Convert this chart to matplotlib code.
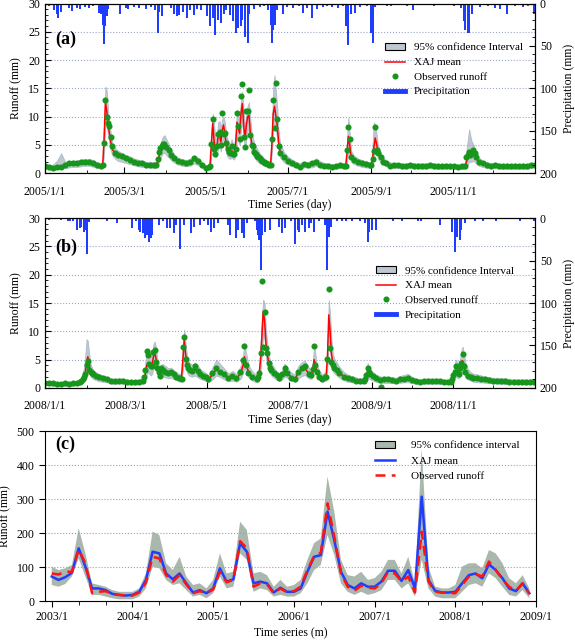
import matplotlib
matplotlib.use("Agg")
import matplotlib.pyplot as plt
import matplotlib.dates as mdates
import pandas as pd
from matplotlib.ticker import MultipleLocator
from matplotlib.patches import Patch
from matplotlib.lines import Line2D

# ---------------- panel (a): daily, 2005 ----------------
days_a = [*range(0, 43, 3),
          *range(43, 51),
          52, 54, *range(57, 82, 3),
          *range(83, 91), 92, 94, 96,
          *range(99, 121, 3),
          *range(122, 176),
          *range(178, 224, 3),
          224, 225, 226, 227, 228, 230, 233, 236, 239, 242,
          243, 244, 245, 246, 247, 248, 250, 252, 254, 257, 260,
          *range(263, 312, 3),
          *range(313, 322), 323, 326,
          *range(329, 366, 3)]
obs_a = [1.3, 1.0, 0.9, 1.0, 1.1, 1.5, 1.7, 1.8, 1.7, 1.9, 2.0, 1.9, 1.7, 1.4, 1.3,
         1.5, 5.4, 13.0, 10.0, 8.8, 8.3, 6.3, 4.8,
         3.6, 3.2, 3.0, 2.6, 2.4, 2.0, 1.8, 1.7, 1.5, 1.5, 1.4,
         1.5, 2.5, 3.8, 4.4, 4.8, 5.1, 5.2, 4.6, 4.0, 3.2, 2.6,
         2.1, 1.9, 1.8, 2.0, 2.6, 2.1, 1.4, 0.9,
         1.1, 1.2, 5.2, 9.6, 4.2, 3.4, 4.8, 7.0, 7.3, 5.0,
         10.6, 7.0, 7.1, 5.4, 4.2, 3.8, 3.5, 4.8, 3.4, 3.4,
         4.3, 10.6, 8.4, 6.1, 13.6, 15.8, 6.4, 4.7, 11.0, 10.9,
         14.7, 6.7, 5.0, 4.8, 3.8, 3.4, 3.0, 2.9, 2.6, 2.3,
         2.1, 1.9, 1.8, 1.7, 1.6, 1.5, 1.4, 6.1, 13.0, 8.0,
         16.0, 9.5, 4.8, 3.6,
         2.9, 2.2, 1.7, 1.4, 1.1, 1.6, 1.4, 1.7, 2.0, 1.5, 1.3, 1.3, 1.1, 1.2, 1.4, 1.3,
         1.3, 4.0, 8.2, 6.0, 2.9, 2.3, 2.0, 1.7, 1.6, 1.4,
         1.4, 2.5, 3.9, 8.1, 4.1, 3.6, 2.9, 2.0, 1.7, 1.3, 1.4,
         1.4, 1.3, 1.3, 1.4, 1.3, 1.2, 1.3, 1.3, 1.4, 1.3, 1.2, 1.2, 1.3, 1.2, 1.2, 1.1, 1.2,
         1.2, 2.9, 3.2, 3.8, 3.2, 3.6, 4.1, 3.5, 2.9, 2.0, 1.7,
         1.4, 1.3, 1.4, 1.3, 1.2, 1.3, 1.2, 1.3, 1.2, 1.3, 1.2, 1.4, 1.5]
sim_a = [1.2, 0.9, 0.9, 1.0, 1.3, 1.3, 1.4, 1.5, 1.5, 1.7, 1.8, 1.8, 1.6, 1.3, 1.2,
         1.6, 6.0, 12.5, 11.0, 8.5, 7.0, 5.5, 4.3,
         3.5, 3.0, 2.7, 2.4, 2.2, 1.9, 1.7, 1.6, 1.4, 1.4, 1.3,
         1.4, 2.0, 3.0, 3.8, 4.4, 4.7, 4.8, 4.5, 3.8, 3.1, 2.5,
         2.0, 1.8, 1.7, 1.8, 2.3, 2.0, 1.3, 0.9,
         1.0, 1.5, 5.5, 8.8, 5.5, 4.0, 4.5, 6.5, 6.8, 5.5,
         7.5, 8.5, 7.0, 5.0, 4.2, 3.8, 3.6, 4.0, 3.6, 3.5,
         5.0, 9.0, 8.0, 7.0, 10.5, 12.3, 8.5, 6.0, 8.5, 10.0,
         10.2, 7.0, 5.2, 4.6, 3.9, 3.5, 3.1, 2.8, 2.5, 2.3,
         2.1, 1.9, 1.8, 1.6, 1.5, 1.4, 1.4, 5.0, 10.5, 11.8,
         10.0, 8.5, 5.5, 4.0,
         2.7, 2.1, 1.7, 1.4, 1.2, 1.4, 1.4, 1.5, 1.8, 1.5, 1.3, 1.2, 1.1, 1.1, 1.3, 1.2,
         1.3, 3.5, 6.5, 5.0, 3.0, 2.3, 1.9, 1.6, 1.5, 1.3,
         1.3, 2.5, 4.5, 6.2, 5.2, 3.8, 2.8, 2.1, 1.7, 1.4, 1.3,
         1.3, 1.2, 1.2, 1.3, 1.2, 1.2, 1.2, 1.2, 1.3, 1.2, 1.1, 1.1, 1.2, 1.1, 1.1, 1.0, 1.1,
         1.1, 2.0, 2.8, 3.5, 3.3, 3.3, 3.6, 3.2, 2.7, 2.0, 1.6,
         1.3, 1.2, 1.3, 1.2, 1.1, 1.2, 1.1, 1.2, 1.1, 1.2, 1.1, 1.3, 1.4]
lo_a = [0.8, 0.6, 0.6, 0.7, 0.8, 0.9, 1.0, 1.1, 1.1, 1.2, 1.3, 1.3, 1.1, 0.9, 0.8,
        1.1, 3.5, 9.0, 8.5, 6.5, 5.2, 4.0, 3.2,
        2.6, 2.2, 2.0, 1.8, 1.6, 1.4, 1.2, 1.1, 1.0, 1.0, 0.9,
        1.0, 1.4, 2.1, 2.7, 3.2, 3.5, 3.6, 3.3, 2.8, 2.3, 1.9,
        1.5, 1.3, 1.2, 1.3, 1.7, 1.4, 0.9, 0.6,
        0.7, 1.0, 3.5, 6.0, 4.0, 2.8, 3.0, 4.5, 4.8, 3.8,
        5.5, 6.0, 5.0, 3.5, 2.9, 2.6, 2.5, 2.8, 2.5, 2.4,
        3.5, 6.5, 5.8, 5.0, 7.5, 9.5, 6.0, 4.2, 6.0, 7.5,
        7.5, 5.0, 3.6, 3.2, 2.7, 2.4, 2.1, 1.9, 1.7, 1.6,
        1.4, 1.3, 1.2, 1.1, 1.0, 1.0, 1.0, 3.5, 8.0, 9.0,
        7.5, 6.0, 3.8, 2.8,
        1.9, 1.5, 1.2, 1.0, 0.8, 1.0, 1.0, 1.0, 1.3, 1.0, 0.9, 0.8, 0.8, 0.8, 0.9, 0.8,
        0.9, 2.0, 4.0, 3.0, 2.0, 1.6, 1.3, 1.1, 1.0, 0.9,
        0.9, 1.5, 2.5, 4.0, 3.5, 2.6, 2.0, 1.5, 1.2, 1.0, 0.9,
        0.9, 0.8, 0.8, 0.9, 0.8, 0.8, 0.8, 0.8, 0.9, 0.8, 0.7, 0.7, 0.8, 0.7, 0.7, 0.7, 0.7,
        0.7, 1.0, 1.5, 2.0, 2.0, 2.0, 2.2, 2.0, 1.7, 1.3, 1.1,
        0.9, 0.8, 0.9, 0.8, 0.7, 0.8, 0.7, 0.8, 0.7, 0.8, 0.7, 0.9, 1.0]
hi_a = [1.7, 1.4, 1.5, 2.2, 3.5, 2.0, 2.1, 2.2, 2.2, 2.4, 2.5, 2.5, 2.3, 1.9, 1.8,
        2.3, 9.0, 15.3, 14.5, 11.0, 9.0, 7.0, 5.5,
        4.5, 4.0, 3.6, 3.2, 3.0, 2.6, 2.4, 2.2, 2.0, 2.0, 1.9,
        2.0, 2.9, 4.2, 5.2, 6.0, 6.5, 6.7, 6.2, 5.2, 4.2, 3.4,
        2.7, 2.5, 2.3, 2.5, 3.1, 2.7, 1.9, 1.3,
        1.5, 2.5, 8.0, 10.5, 8.5, 6.0, 6.5, 9.0, 9.2, 8.0,
        9.5, 10.0, 9.0, 7.0, 6.0, 5.5, 5.0, 6.0, 5.2, 5.0,
        7.0, 11.0, 10.5, 9.5, 13.0, 14.4, 11.0, 8.0, 10.5, 12.0,
        12.5, 9.5, 7.0, 6.2, 5.3, 4.8, 4.3, 3.9, 3.5, 3.2,
        2.9, 2.7, 2.5, 2.3, 2.1, 2.0, 2.0, 7.5, 15.0, 17.3,
        14.5, 11.5, 7.5, 5.5,
        3.7, 2.9, 2.4, 2.0, 1.7, 2.0, 2.0, 2.1, 2.6, 2.1, 1.8, 1.7, 1.6, 1.6, 1.8, 1.7,
        1.8, 6.0, 9.8, 7.0, 4.0, 3.1, 2.6, 2.3, 2.1, 1.9,
        1.8, 5.0, 9.0, 8.5, 7.0, 5.0, 3.6, 2.8, 2.3, 1.9, 1.8,
        1.8, 1.7, 1.7, 1.8, 1.7, 1.7, 1.7, 1.7, 1.8, 1.7, 1.6, 1.6, 1.7, 1.6, 1.6, 1.5, 1.6,
        1.8, 4.0, 6.0, 7.7, 6.5, 5.5, 5.2, 4.5, 3.7, 2.8, 2.2,
        1.9, 1.7, 1.8, 1.7, 1.6, 1.7, 1.6, 1.7, 1.6, 1.7, 1.6, 1.8, 1.9]
# (day of year, precipitation mm)
rain_a = [(3, 3), (7, 8), (9, 12), (10, 17), (12, 10), (18, 5), (20, 9), (24, 5), (26, 6),
          (30, 4), (33, 5), (36, 3), (40, 11), (42, 12), (43, 25), (44, 48), (45, 27), (46, 15),
          (47, 6), (56, 12), (60, 5), (62, 6), (66, 4), (70, 5), (75, 6), (79, 4), (82, 8),
          (84, 35), (85, 10), (87, 15), (94, 5), (96, 12), (98, 15), (100, 13), (103, 10),
          (106, 17), (108, 8), (111, 13), (113, 6), (116, 8), (121, 15), (123, 27), (125, 17),
          (127, 37), (129, 19), (131, 23), (133, 12), (135, 8), (138, 13), (140, 21), (142, 35),
          (144, 29), (146, 27), (147, 19), (149, 40), (151, 46), (152, 12), (156, 6), (160, 4),
          (163, 3), (166, 8), (168, 25), (169, 47), (170, 31), (171, 25), (173, 8), (177, 12),
          (180, 4), (185, 5), (189, 3), (192, 11), (195, 5), (199, 17), (203, 6), (207, 4),
          (210, 3), (214, 4), (218, 5), (222, 3), (224, 27), (226, 49), (228, 12), (231, 11),
          (235, 4), (240, 3), (243, 35), (244, 47), (246, 4), (255, 3), (258, 3), (263, 2),
          (270, 3), (274, 8), (280, 2), (290, 3), (300, 2), (305, 3), (310, 5), (312, 21),
          (313, 31), (315, 35), (316, 35), (318, 12), (324, 4), (330, 3), (335, 5), (339, 6),
          (344, 12), (350, 3), (356, 4), (360, 3), (364, 12)]
ticks_a = ["2005/1/1", "2005/3/1", "2005/5/1", "2005/7/1", "2005/9/1", "2005/11/1"]

# ---------------- panel (b): daily, 2008 ----------------
days_b = [*range(0, 25, 3),
          *range(26, 37), 38, 40,
          *range(43, 71, 3),
          *range(73, 89), 90, 92, 94, 96, 98,
          *range(100, 109), 110, 112, 114, 116, 118, 120,
          122, 125, 128, 131, 134, 137, 140, 143, 146, 148, 149, 150, 152, 155, 158,
          *range(159, 170), 171, 173, 175,
          177, 179, 181, 184, 187, 189, 192, 194, 197, 199, 200, 201, 202, 203, 205, 207, 209,
          *range(210, 217), 218, 220, 223, 226, 229, 232, 235, 238,
          239, 240, 241, 242, 243, 245, 247, 250, 251, 253, 256,
          *range(259, 302, 3),
          *range(303, 315), 316, 318,
          *range(320, 366, 3)]
obs_b = [0.9, 0.8, 0.8, 0.7, 0.7, 0.8, 0.7, 0.8, 0.9,
         1.0, 1.3, 1.6, 2.0, 2.4, 4.1, 4.8, 3.2, 2.9, 2.7, 2.5, 2.2, 1.9,
         1.7, 1.5, 1.3, 1.2, 1.3, 1.3, 1.1, 1.0, 1.0, 1.1,
         1.3, 2.0, 3.2, 6.5, 5.8, 4.2, 3.8, 3.9, 6.4, 6.7, 4.6, 3.5, 2.9, 2.2, 3.6, 3.2,
         2.9, 2.6, 2.8, 2.4, 2.0,
         1.8, 1.7, 1.6, 7.3, 9.0, 5.2, 4.0, 3.5, 3.2, 3.0, 3.8, 3.0, 2.4, 2.2, 2.0,
         1.6, 2.6, 3.6, 2.9, 2.4, 1.8, 2.2, 1.7, 2.9, 4.9, 7.4, 4.1, 2.6, 2.0, 1.6,
         2.0, 2.6, 6.1, 18.8, 7.3, 13.5, 7.0, 6.1, 4.4, 3.6, 3.2, 2.6, 2.3, 1.7,
         2.4, 3.6, 2.6, 1.8, 1.6, 2.9, 3.5, 3.8, 2.4, 2.3, 3.4, 7.4, 4.0, 2.9, 2.0, 1.6, 2.0,
         2.0, 5.2, 17.5, 7.1, 4.6, 4.1, 3.6, 3.2, 2.6, 2.0, 1.7, 1.5, 1.3, 1.2, 1.3,
         1.5, 2.3, 3.5, 2.9, 2.4, 2.1, 1.8, 1.4, 0.2, 1.5, 1.5,
         1.4, 1.3, 1.5, 1.6, 1.7, 1.4, 1.2, 1.1, 1.2, 1.3, 1.2, 1.3, 1.2, 1.1, 1.1,
         1.1, 1.5, 2.3, 2.9, 3.8, 2.9, 2.5, 3.5, 4.4, 6.0, 3.8, 2.9, 2.2, 2.0,
         1.8, 1.7, 1.6, 1.5, 1.4, 1.3, 1.3, 1.2, 1.2, 1.1, 1.1, 1.1, 1.1, 1.0, 1.1, 1.1]
sim_b = [0.8, 0.7, 0.7, 0.7, 0.6, 0.7, 0.7, 0.7, 0.8,
         0.9, 1.1, 1.4, 1.8, 2.5, 4.5, 5.5, 4.0, 3.0, 2.6, 2.3, 2.0, 1.8,
         1.6, 1.4, 1.2, 1.1, 1.2, 1.2, 1.0, 0.9, 0.9, 1.0,
         1.2, 1.6, 2.5, 4.0, 4.5, 4.0, 3.5, 4.0, 5.5, 6.5, 5.0, 3.5, 2.8, 2.5, 3.0, 3.0,
         2.8, 2.5, 2.6, 2.3, 2.0,
         1.8, 1.7, 2.0, 5.0, 8.5, 6.0, 4.2, 3.6, 3.2, 3.0, 3.3, 2.9, 2.4, 2.1, 1.9,
         1.5, 2.3, 3.3, 2.8, 2.3, 1.8, 2.0, 1.7, 2.5, 4.0, 5.5, 4.5, 2.8, 2.0, 1.6,
         1.8, 2.5, 5.0, 9.0, 13.5, 12.0, 8.0, 6.0, 4.6, 3.8, 3.3, 2.7, 2.2, 1.8,
         2.2, 3.0, 2.6, 1.9, 1.7, 2.6, 3.2, 3.5, 2.6, 2.4, 3.0, 5.0, 4.2, 3.0, 2.1, 1.7, 1.9,
         2.0, 5.5, 12.9, 10.0, 6.0, 4.5, 3.8, 3.3, 2.7, 2.1, 1.7, 1.5, 1.3, 1.2, 1.2,
         1.4, 2.0, 2.8, 2.6, 2.3, 2.0, 1.7, 1.5, 1.4, 1.4, 1.4,
         1.3, 1.2, 1.4, 1.5, 1.6, 1.4, 1.1, 1.0, 1.1, 1.2, 1.1, 1.2, 1.1, 1.0, 1.0,
         1.0, 1.3, 2.0, 2.8, 3.2, 2.8, 2.6, 3.2, 4.2, 4.8, 4.0, 3.0, 2.3, 2.0,
         1.7, 1.6, 1.5, 1.4, 1.3, 1.2, 1.2, 1.1, 1.1, 1.0, 1.0, 1.0, 1.0, 1.0, 1.0, 1.0]
lo_b = [0.5, 0.5, 0.4, 0.4, 0.4, 0.4, 0.4, 0.4, 0.5,
        0.6, 0.7, 0.9, 1.1, 1.5, 2.5, 3.5, 2.7, 2.1, 1.8, 1.6, 1.4, 1.2,
        1.1, 1.0, 0.8, 0.7, 0.8, 0.8, 0.7, 0.6, 0.6, 0.7,
        0.8, 1.0, 1.5, 2.4, 2.8, 2.5, 2.2, 2.5, 3.5, 4.2, 3.3, 2.3, 1.9, 1.7, 2.0, 2.0,
        1.9, 1.7, 1.8, 1.6, 1.4,
        1.2, 1.1, 1.2, 3.2, 5.5, 4.0, 2.8, 2.4, 2.1, 2.0, 2.2, 1.9, 1.6, 1.4, 1.3,
        1.0, 1.5, 2.2, 1.9, 1.5, 1.2, 1.3, 1.1, 1.6, 2.6, 3.6, 3.0, 1.9, 1.3, 1.0,
        1.2, 1.6, 3.0, 6.0, 9.5, 8.5, 5.5, 4.0, 3.1, 2.6, 2.2, 1.8, 1.5, 1.2,
        1.5, 2.0, 1.8, 1.3, 1.1, 1.7, 2.1, 2.3, 1.7, 1.6, 2.0, 3.3, 2.8, 2.0, 1.4, 1.1, 1.3,
        1.3, 3.5, 8.5, 6.5, 4.0, 3.0, 2.6, 2.2, 1.8, 1.4, 1.1, 1.0, 0.9, 0.8, 0.8,
        0.9, 1.2, 1.7, 1.7, 1.5, 1.3, 1.1, 1.0, 0.9, 0.9, 0.9,
        0.9, 0.8, 0.9, 1.0, 1.0, 0.9, 0.7, 0.7, 0.7, 0.8, 0.7, 0.8, 0.7, 0.7, 0.7,
        0.7, 0.8, 1.2, 1.8, 2.0, 1.8, 1.7, 2.0, 2.6, 3.0, 2.5, 1.9, 1.5, 1.3,
        1.1, 1.0, 1.0, 0.9, 0.9, 0.8, 0.8, 0.7, 0.7, 0.7, 0.7, 0.7, 0.7, 0.6, 0.7, 0.7]
hi_b = [1.2, 1.1, 1.0, 1.0, 1.0, 1.0, 1.0, 1.1, 1.3,
        1.4, 1.8, 2.5, 3.5, 5.5, 8.6, 8.3, 6.0, 4.3, 3.6, 3.2, 2.8, 2.5,
        2.2, 2.0, 1.7, 1.6, 1.7, 1.7, 1.5, 1.4, 1.4, 1.5,
        1.8, 2.6, 4.5, 6.8, 7.0, 6.0, 5.5, 6.0, 7.8, 8.2, 7.0, 5.0, 4.0, 3.6, 4.2, 4.2,
        3.9, 3.5, 3.6, 3.2, 2.8,
        2.5, 2.4, 3.0, 7.5, 10.3, 8.0, 5.8, 4.9, 4.4, 4.1, 4.5, 4.0, 3.3, 3.0, 2.7,
        2.2, 3.6, 5.0, 4.2, 3.4, 2.6, 3.0, 2.5, 3.8, 6.0, 8.0, 6.5, 4.0, 2.9, 2.3,
        2.6, 3.6, 7.5, 12.5, 15.6, 15.0, 10.5, 8.0, 6.2, 5.0, 4.4, 3.6, 3.0, 2.5,
        3.0, 4.3, 3.6, 2.7, 2.4, 3.8, 4.6, 4.8, 3.6, 3.3, 4.3, 7.5, 6.0, 4.2, 3.0, 2.4, 2.7,
        2.8, 8.0, 15.5, 13.0, 8.5, 6.2, 5.2, 4.5, 3.7, 2.9, 2.4, 2.1, 1.9, 1.7, 1.7,
        2.0, 3.0, 4.4, 3.8, 3.2, 2.8, 2.4, 2.1, 2.0, 2.0, 2.0,
        1.9, 1.8, 2.1, 2.3, 2.5, 2.0, 1.6, 1.5, 1.6, 1.7, 1.6, 1.7, 1.6, 1.5, 1.5,
        1.5, 2.0, 3.2, 4.3, 5.0, 4.4, 4.2, 5.0, 6.6, 7.3, 6.0, 4.5, 3.3, 2.8,
        2.5, 2.4, 2.2, 2.0, 1.9, 1.8, 1.8, 1.7, 1.7, 1.6, 1.5, 1.5, 1.5, 1.5, 1.5, 1.5]
rain_b = [(3, 2), (12, 2), (17, 3), (19, 3), (21, 3), (24, 14), (26, 12), (27, 10), (29, 16),
          (30, 14), (31, 42), (33, 5), (46, 4), (54, 6), (65, 12), (68, 4), (70, 14), (71, 16),
          (73, 18), (75, 24), (76, 20), (78, 28), (79, 24), (80, 20), (85, 8), (88, 4), (91, 12),
          (93, 12), (96, 18), (98, 8), (101, 36), (104, 8), (109, 18), (111, 10), (116, 8),
          (119, 4), (122, 8), (124, 16), (126, 12), (129, 6), (137, 8), (138, 20), (143, 24),
          (144, 14), (147, 18), (149, 24), (151, 6), (157, 3), (158, 14), (159, 20), (160, 26),
          (161, 61), (162, 20), (164, 16), (168, 14), (175, 10), (177, 18), (179, 12), (184, 4),
          (187, 30), (189, 14), (190, 16), (192, 8), (194, 16), (197, 12), (199, 6), (201, 16),
          (205, 4), (209, 8), (211, 61), (212, 22), (214, 10), (218, 4), (222, 4), (225, 4),
          (229, 4), (235, 3), (239, 6), (241, 28), (242, 16), (244, 14), (247, 14), (260, 3),
          (267, 4), (279, 4), (281, 3), (295, 8), (304, 16), (306, 40), (308, 22), (310, 26),
          (311, 14), (314, 6), (321, 4), (327, 3), (337, 3), (355, 3), (365, 4)]
ticks_b = ["2008/1/1", "2008/3/1", "2008/5/1", "2008/7/1", "2008/9/1", "2008/11/1"]

# ---------------- panel (c): monthly, 2003-2008 ----------------
obs_c = [81, 78, 86, 86, 152, 111, 23, 27, 29, 20, 18, 16,
         16, 25, 54, 130, 125, 76, 57, 76, 49, 23, 29, 23,
         34, 86, 55, 62, 176, 155, 42, 52, 49, 23, 37, 25,
         29, 42, 91, 132, 142, 287, 189, 81, 42, 30, 45, 39,
         37, 52, 86, 81, 57, 72, 25, 204, 57, 27, 25, 23,
         23, 47, 72, 79, 72, 116, 91, 64, 42, 30, 52, 21]
sim_c = [72, 62, 70, 83, 155, 101, 37, 37, 32, 21, 18, 16,
         18, 27, 62, 145, 140, 81, 64, 81, 52, 25, 32, 23,
         37, 96, 57, 64, 170, 145, 52, 57, 52, 25, 39, 27,
         27, 37, 86, 130, 135, 263, 179, 86, 47, 37, 52, 42,
         42, 57, 89, 89, 59, 91, 37, 307, 62, 30, 25, 25,
         27, 52, 76, 81, 67, 108, 91, 67, 37, 29, 52, 23]
lo_c = [47, 42, 50, 72, 125, 72, 18, 18, 13, 8, 5, 5,
        5, 13, 37, 101, 96, 62, 47, 52, 32, 13, 18, 8,
        23, 72, 37, 42, 140, 121, 27, 37, 32, 13, 18, 13,
        13, 23, 52, 91, 106, 194, 135, 52, 27, 18, 27, 18,
        23, 32, 62, 62, 37, 52, 13, 121, 37, 13, 8, 8,
        8, 27, 47, 52, 42, 81, 67, 42, 18, 13, 32, 8]
hi_c = [101, 91, 96, 106, 214, 140, 52, 47, 42, 32, 27, 27,
        27, 37, 81, 204, 194, 111, 91, 130, 72, 47, 52, 37,
        62, 140, 81, 86, 233, 209, 81, 86, 76, 42, 62, 42,
        47, 62, 121, 170, 184, 366, 263, 121, 76, 72, 86, 62,
        67, 86, 121, 121, 81, 130, 52, 449, 101, 42, 37, 37,
        47, 101, 111, 111, 96, 150, 140, 111, 67, 52, 76, 37]
ticks_c = ["2003/1", "2004/1", "2005/1", "2006/1", "2007/1", "2008/1", "2009/1"]

plt.rcParams["font.family"] = "Liberation Serif"
plt.rcParams["font.size"] = 8.5

BLUE = "#1f3dff"
GREEN = "#16961a"
GRID = "#9aa6c8"


def daily_panel(ax, start, days, obs, sim, lo, hi, rain, ticks, tag, tag_y, leg_xy):
    t0 = pd.Timestamp(start)
    x = t0 + pd.to_timedelta(days, unit="D")
    ax.fill_between(x, lo, hi, facecolor="#bfc7d0", edgecolor="#b0bccc", lw=0.6)
    ax.plot(x, sim, color="red", lw=1.1)
    ax.plot(x, obs, "o", color=GREEN, ms=4.4, mec="none")
    ax.set_xlim(t0, t0 + pd.DateOffset(years=1))
    ax.set_ylim(0, 30)
    ax.set_yticks(range(0, 31, 5))
    ax.yaxis.set_minor_locator(MultipleLocator(1))
    ax.set_xticks(pd.to_datetime(ticks, format="%Y/%m/%d"))
    ax.set_xticklabels(ticks)
    ax.xaxis.set_minor_locator(mdates.MonthLocator())
    ax.tick_params(which="both", direction="in", top=False, right=False)
    ax.tick_params(axis="x", pad=9)
    ax.tick_params(which="major", length=4)
    ax.tick_params(which="minor", length=2)
    ax.grid(axis="y", ls=":", color=GRID, lw=0.8)
    ax.set_ylabel("Runoff (mm)")
    ax.set_xlabel("Time Series (day)", labelpad=1)
    ax.text(0.02, tag_y, tag, transform=ax.transAxes, fontsize=13, fontweight="bold",
            va="center")

    ax2 = ax.twinx()
    rd = [r[0] for r in rain]
    rm = [r[1] for r in rain]
    ax2.bar(t0 + pd.to_timedelta(rd, unit="D"), rm, width=1.5, color=BLUE)
    ax2.set_ylim(200, 0)
    ax2.set_yticks(range(0, 201, 50))
    ax2.yaxis.set_minor_locator(MultipleLocator(10))
    ax2.tick_params(which="both", direction="in")
    ax2.tick_params(which="major", length=4)
    ax2.tick_params(which="minor", length=2)
    ax2.set_ylabel("Precipitation (mm)")

    handles = [Patch(facecolor="#bfc7d0", edgecolor="black", lw=0.8),
               Line2D([], [], color="red", lw=1.1),
               Line2D([], [], ls="none", marker="o", color=GREEN, ms=4.4, mec="none"),
               Line2D([], [], color=BLUE, lw=3.5)]
    labels = ["95% confidence Interval", "XAJ mean", "Observed runoff", "Precipitation"]
    ax2.legend(handles, labels, loc="upper left", bbox_to_anchor=leg_xy, frameon=False,
               fontsize=8, handlelength=1.8, handleheight=0.5, handletextpad=0.8,
               labelspacing=0.5, borderaxespad=0, borderpad=0)


fig = plt.figure(figsize=(5.75, 6.41), dpi=100)
ax_a = fig.add_axes([0.0783, 0.730, 0.852, 0.2645])
ax_b = fig.add_axes([0.0783, 0.3947, 0.852, 0.2652])
ax_c = fig.add_axes([0.0783, 0.0624, 0.854, 0.2652])

daily_panel(ax_a, "2005-01-01", days_a, obs_a, sim_a, lo_a, hi_a, rain_a, ticks_a, "(a)",
            0.79, (0.694, 0.765))
daily_panel(ax_b, "2008-01-01", days_b, obs_b, sim_b, lo_b, hi_b, rain_b, ticks_b, "(b)",
            0.83, (0.676, 0.715))

# panel (c)
months = list(range(len(obs_c)))
ax_c.fill_between(months, lo_c, hi_c, facecolor="#a9b7ad", lw=0)
ax_c.plot(months, sim_c, color=BLUE, lw=1.8)
ax_c.plot(months, obs_c, color="#ff1414", lw=1.8, ls=(0, (4, 2.5)))
ax_c.set_xlim(-1, 72)
ax_c.set_ylim(0, 500)
ax_c.set_yticks(range(0, 501, 100))
ax_c.set_xticks(range(0, 73, 12))
ax_c.set_xticklabels(ticks_c)
ax_c.xaxis.set_minor_locator(MultipleLocator(4))
ax_c.tick_params(which="both", direction="out")
ax_c.tick_params(which="major", length=4)
ax_c.tick_params(which="minor", length=3)
ax_c.tick_params(axis="y", which="minor", length=0)
ax_c.grid(axis="y", ls=":", color="#a0a0a0", lw=0.8)
ax_c.set_ylabel("Runoff (mm)")
ax_c.set_xlabel("Time series (m)", labelpad=3)
ax_c.text(0.02, 0.92, "(c)", transform=ax_c.transAxes, fontsize=13, fontweight="bold",
          va="center")
handles_c = [Patch(facecolor="#a9b7ad", edgecolor="black", lw=0.8),
             Line2D([], [], color=BLUE, lw=1.8),
             Line2D([], [], color="#ff1414", lw=1.8, ls=(0, (4, 2.5)))]
ax_c.legend(handles_c, ["95% confidence interval", "XAJ mean", "Observed runoff"],
            loc="upper left", bbox_to_anchor=(0.673, 0.94), frameon=False, fontsize=8,
            handlelength=1.8, handleheight=0.5, handletextpad=1.4, labelspacing=0.55,
            borderaxespad=0, borderpad=0)

fig.savefig("out.png", dpi=100)
